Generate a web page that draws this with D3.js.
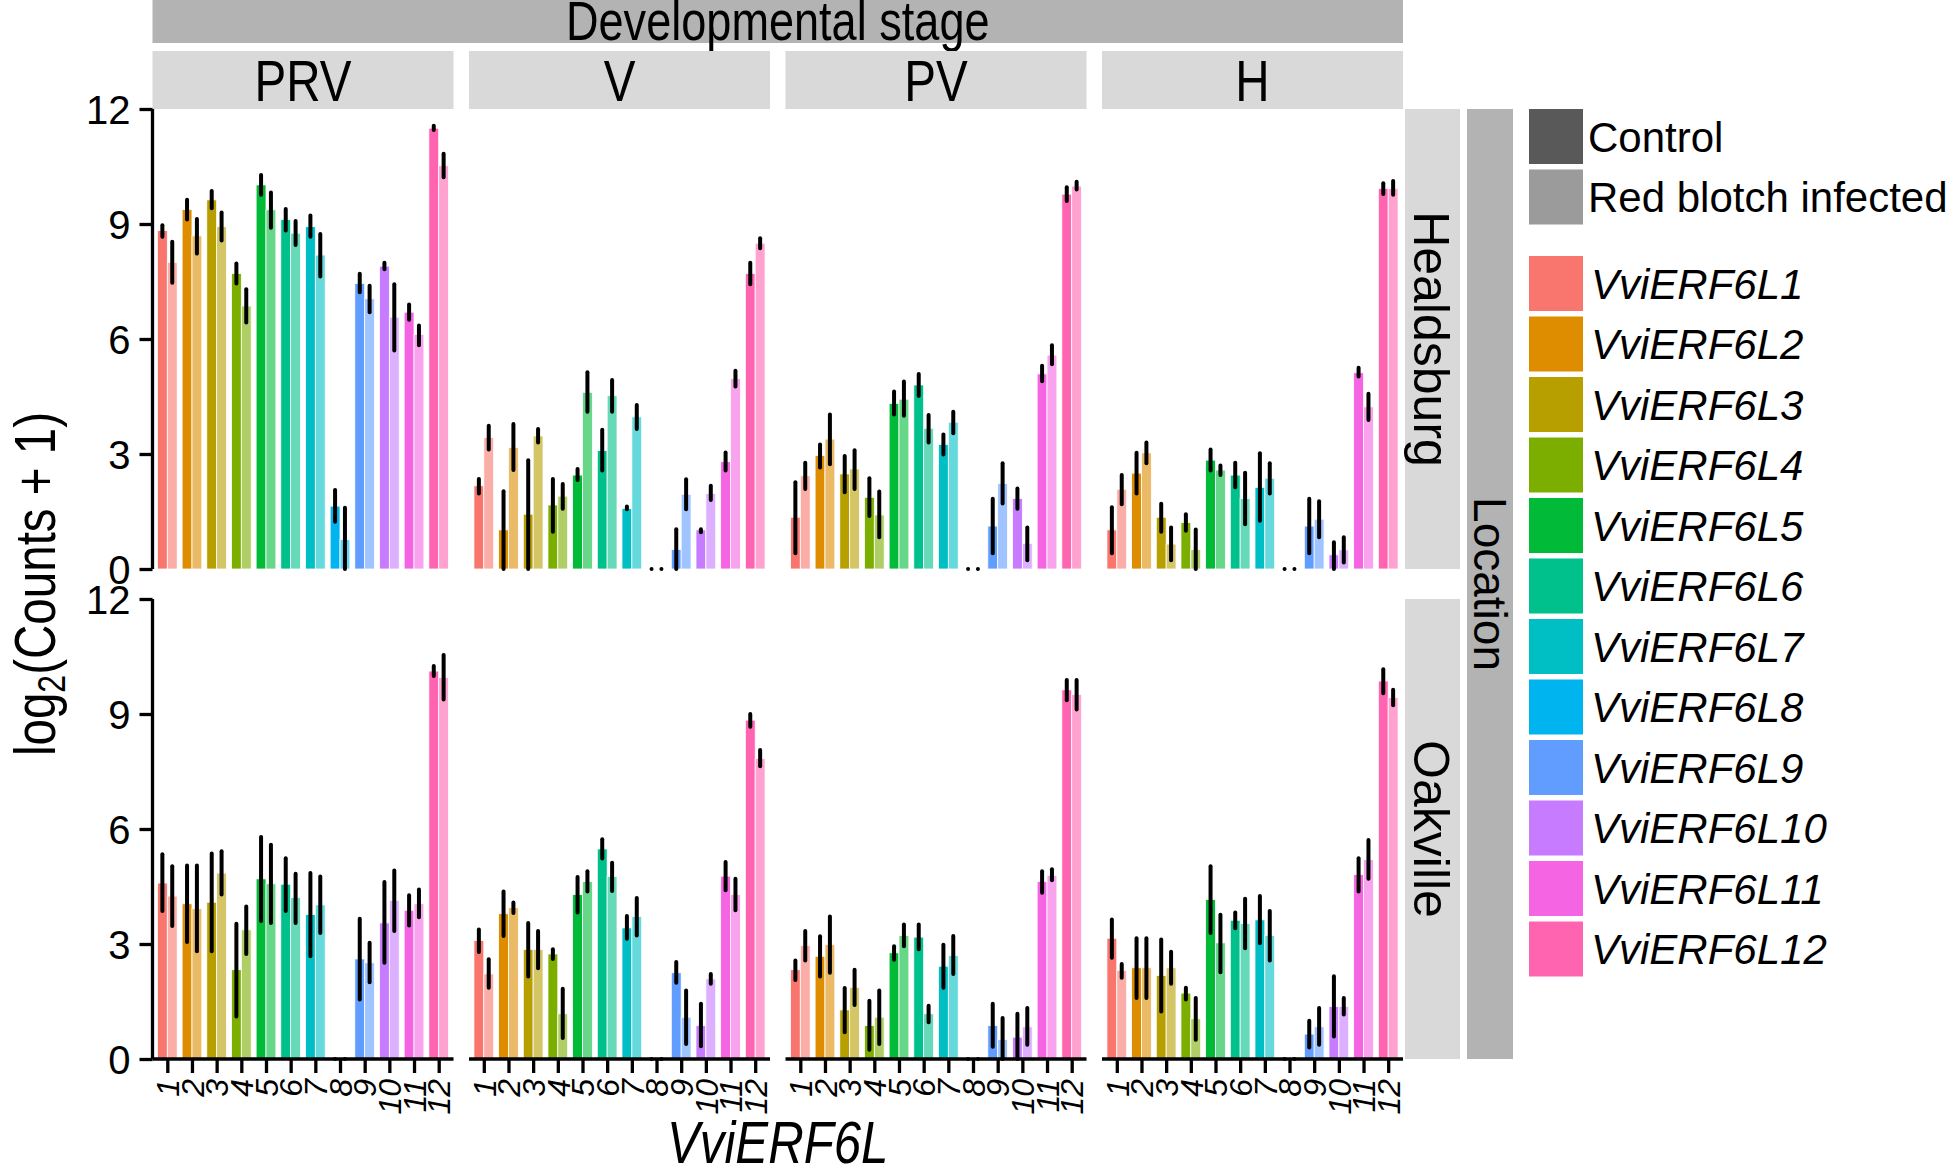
<!DOCTYPE html>
<html>
<head>
<meta charset="utf-8">
<script src="https://cdn.jsdelivr.net/npm/d3@7"></script>
<style>
  body { margin: 0; background: #fff; }
  text { font-family: "Liberation Sans", Arial, sans-serif; }
</style>
</head>
<body>
<script>
const genes = ['1', '2', '3', '4', '5', '6', '7', '8', '9', '10', '11', '12'];
const geneNames = genes.map(g => 'VviERF6L' + g);
const geneColors = ['#F8766D', '#DE8C00', '#B79F00', '#7CAE00', '#00BA38', '#00C08B',
  '#00BFC4', '#00B4F0', '#619CFF', '#C77CFF', '#F564E3', '#FF64B0'];
const stages = ['PRV', 'V', 'PV', 'H'];
const locations = ['Healdsburg', 'Oakville'];
const treatments = ['Control', 'Red blotch infected'];
const yTicks = [0, 3, 6, 9, 12];

// [mean, low, high] per gene, log2(counts + 1)
const heal_PRV_ctrl = [[8.83, 8.67, 8.97], [9.38, 9.12, 9.63], [9.63, 9.41, 9.86], [7.71, 7.45, 7.97], [10.02, 9.76, 10.28], [9.12, 8.83, 9.39], [8.93, 8.67, 9.22], [1.64, 1.23, 2.06], [7.45, 7.22, 7.70], [7.90, 7.82, 7.99], [6.70, 6.50, 6.90], [11.50, 11.45, 11.56]];
const heal_PRV_inf = [[8.0, 7.47, 8.54], [8.69, 8.23, 9.13], [8.93, 8.57, 9.30], [6.86, 6.43, 7.30], [9.37, 8.90, 9.82], [8.76, 8.45, 9.08], [8.19, 7.63, 8.74], [0.77, 0, 1.6], [7.05, 6.70, 7.39], [6.57, 5.70, 7.43], [6.12, 5.84, 6.35], [10.52, 10.22, 10.83]];
const heal_V_ctrl = [[2.17, 1.97, 2.35], [1.02, 0, 2.03], [1.43, 0, 2.84], [1.67, 0.97, 2.35], [2.45, 2.32, 2.61], [3.09, 2.57, 3.63], [1.58, 1.56, 1.63], [0, 0, 0], [0.51, 0, 1.04], [1.02, 0.96, 1.04], [2.80, 2.57, 3.04], [7.71, 7.43, 7.99]];
const heal_V_inf = [[3.43, 3.12, 3.74], [3.17, 2.58, 3.78], [3.47, 3.30, 3.65], [1.90, 1.57, 2.22], [4.61, 4.10, 5.13], [4.52, 4.10, 4.93], [3.97, 3.65, 4.28], [0, 0, 0], [1.95, 1.56, 2.34], [1.97, 1.80, 2.17], [4.97, 4.76, 5.17], [8.50, 8.37, 8.63]];
const heal_PV_ctrl = [[1.35, 0.41, 2.26], [2.96, 2.65, 3.25], [2.48, 2.0, 2.95], [1.87, 1.38, 2.37], [4.32, 4.03, 4.63], [4.80, 4.51, 5.09], [3.25, 2.99, 3.51], [0, 0, 0], [1.12, 0.41, 1.83], [1.84, 1.57, 2.10], [5.09, 4.90, 5.30], [9.78, 9.60, 9.96]];
const heal_PV_inf = [[2.43, 2.09, 2.77], [3.39, 2.73, 4.03], [2.61, 2.09, 3.10], [1.41, 0.83, 2.02], [4.43, 4.0, 4.89], [3.67, 3.30, 4.02], [3.83, 3.54, 4.10], [0, 0, 0], [2.23, 1.71, 2.76], [0.67, 0.23, 1.08], [5.58, 5.34, 5.84], [9.99, 9.90, 10.10]];
const heal_H_ctrl = [[1.02, 0.41, 1.61], [2.50, 1.97, 3.03], [1.35, 0.97, 1.70], [1.21, 1.0, 1.43], [2.84, 2.57, 3.12], [2.45, 2.13, 2.77], [2.13, 1.26, 3.02], [0, 0, 0], [1.12, 0.41, 1.83], [0.37, 0, 0.70], [5.12, 5.02, 5.25], [9.93, 9.78, 10.06]];
const heal_H_inf = [[2.08, 1.69, 2.45], [3.03, 2.76, 3.30], [0.65, 0.23, 1.08], [0.51, 0, 1.03], [2.58, 2.45, 2.70], [1.84, 1.17, 2.51], [2.37, 1.97, 2.76], [0, 0, 0], [1.30, 0.83, 1.77], [0.50, 0.17, 0.83], [4.23, 3.89, 4.57], [9.93, 9.76, 10.12]];
const oak_PRV_ctrl = [[4.59, 3.86, 5.34], [4.05, 3.05, 5.05], [4.09, 2.81, 5.36], [2.33, 1.11, 3.53], [4.70, 3.60, 5.79], [4.56, 3.86, 5.24], [3.77, 2.68, 4.85], [0, 0, 0], [2.61, 1.55, 3.66], [3.55, 2.51, 4.62], [3.88, 3.48, 4.27], [10.12, 9.99, 10.25]];
const oak_PRV_inf = [[4.25, 3.47, 5.03], [3.92, 2.81, 5.05], [4.85, 4.29, 5.42], [3.37, 2.74, 3.98], [4.57, 3.55, 5.59], [4.21, 3.55, 4.83], [4.02, 3.29, 4.76], [0, 0, 0], [2.51, 2.0, 3.03], [4.14, 3.34, 4.92], [4.05, 3.70, 4.42], [9.95, 9.38, 10.54]];
const oak_V_ctrl = [[3.09, 2.79, 3.38], [3.79, 3.21, 4.37], [2.86, 2.15, 3.55], [2.74, 2.61, 2.86], [4.29, 3.82, 4.75], [5.48, 5.23, 5.73], [3.42, 3.14, 3.73], [0, 0, 0], [2.25, 1.99, 2.53], [0.87, 0.33, 1.44], [4.77, 4.40, 5.14], [8.84, 8.67, 9.0]];
const oak_V_inf = [[2.22, 1.86, 2.60], [3.95, 3.81, 4.08], [2.86, 2.37, 3.34], [1.18, 0.55, 1.83], [4.63, 4.37, 4.90], [4.76, 4.38, 5.12], [3.72, 3.22, 4.20], [0, 0, 0], [1.09, 0.39, 1.79], [2.09, 1.96, 2.22], [4.29, 3.88, 4.70], [7.84, 7.64, 8.06]];
const oak_PV_ctrl = [[2.33, 2.06, 2.57], [2.68, 2.15, 3.20], [1.28, 0.70, 1.85], [0.87, 0.24, 1.52], [2.77, 2.59, 2.94], [3.18, 2.86, 3.51], [2.42, 1.86, 2.98], [0, 0, 0], [0.87, 0.32, 1.44], [0.57, 0, 1.18], [4.63, 4.34, 4.90], [9.63, 9.36, 9.89]];
const oak_PV_inf = [[2.96, 2.57, 3.34], [2.99, 2.25, 3.72], [1.87, 1.41, 2.33], [1.09, 0.39, 1.79], [3.22, 2.94, 3.51], [1.18, 0.96, 1.39], [2.70, 2.22, 3.21], [0, 0, 0], [0.51, 0, 1.07], [0.84, 0.37, 1.33], [4.79, 4.66, 4.95], [9.51, 9.12, 9.89]];
const oak_H_ctrl = [[3.15, 2.64, 3.64], [2.38, 1.59, 3.15], [2.18, 1.24, 3.12], [1.72, 1.55, 1.86], [4.16, 3.29, 5.03], [3.62, 3.41, 3.82], [3.63, 3.02, 4.25], [0, 0, 0], [0.65, 0.30, 1.00], [1.37, 0.59, 2.16], [4.81, 4.37, 5.24], [9.86, 9.54, 10.17]];
const oak_H_inf = [[2.31, 2.12, 2.48], [2.38, 1.59, 3.15], [2.38, 1.96, 2.80], [1.05, 0.50, 1.59], [3.03, 2.26, 3.76], [3.53, 2.89, 4.18], [3.22, 2.57, 3.86], [0, 0, 0], [0.84, 0.37, 1.33], [1.37, 1.16, 1.59], [5.20, 4.70, 5.71], [9.43, 9.23, 9.63]];

const panels = [
  [[heal_PRV_ctrl, heal_PRV_inf], [heal_V_ctrl, heal_V_inf], [heal_PV_ctrl, heal_PV_inf], [heal_H_ctrl, heal_H_inf]],
  [[oak_PRV_ctrl, oak_PRV_inf], [oak_V_ctrl, oak_V_inf], [oak_PV_ctrl, oak_PV_inf], [oak_H_ctrl, oak_H_inf]]
];

const W = 1946, H = 1168;
const panelLeft = 152.5, panelW = 301, panelStep = 316.5;
const rowTops = [109, 599], rowH = 460;
const treatAlpha = [1, 0.6];
const narrow = 0.82;

const svg = d3.select('body').append('svg')
  .attr('width', W)
  .attr('height', H);

const x = d3.scalePoint().domain(genes).range([0, panelW]).padding(0.6);
const barW = x.step() * 0.4;
const y = d3.scaleLinear().domain([0, 12]).range([rowH, 0]);

// outer strip: developmental stage
svg.append('rect')
  .attr('x', panelLeft).attr('y', 0)
  .attr('width', panelStep * 3 + panelW).attr('height', 43)
  .style('fill', '#b3b3b3');
svg.append('text')
  .attr('transform', `translate(${panelLeft + (panelStep * 3 + panelW) / 2}, 40) scale(${narrow},1)`)
  .attr('text-anchor', 'middle')
  .style('font-size', '55px')
  .text('Developmental stage');

stages.forEach((s, j) => {
  const px = panelLeft + j * panelStep;
  svg.append('rect')
    .attr('x', px).attr('y', 51)
    .attr('width', panelW).attr('height', 58)
    .style('fill', '#d9d9d9');
  svg.append('text')
    .attr('transform', `translate(${px + panelW / 2}, 101) scale(${narrow},1)`)
    .attr('text-anchor', 'middle')
    .style('font-size', '58px')
    .text(s);
});

// right strips
locations.forEach((loc, i) => {
  svg.append('rect')
    .attr('x', 1405).attr('y', rowTops[i])
    .attr('width', 55).attr('height', rowH)
    .style('fill', '#d9d9d9');
  svg.append('text')
    .attr('transform', `translate(1414, ${rowTops[i] + rowH / 2}) rotate(90)`)
    .attr('text-anchor', 'middle')
    .style('font-size', '50px')
    .text(loc);
});
svg.append('rect')
  .attr('x', 1467).attr('y', rowTops[0])
  .attr('width', 46).attr('height', rowTops[1] + rowH - rowTops[0])
  .style('fill', '#b3b3b3');
svg.append('text')
  .attr('transform', `translate(1474, ${(rowTops[0] + rowTops[1] + rowH) / 2}) rotate(90)`)
  .attr('text-anchor', 'middle')
  .style('font-size', '46px')
  .text('Location');

// panels
panels.forEach((row, i) => {
  row.forEach((pair, j) => {
    const g = svg.append('g')
      .attr('transform', `translate(${panelLeft + j * panelStep}, ${rowTops[i]})`);

    pair.forEach((vals, t) => {
      const off = t === 0 ? -barW : 0;
      g.selectAll('rect.t' + t)
        .data(vals)
        .enter()
        .append('rect')
        .attr('x', (d, k) => x(genes[k]) + off)
        .attr('y', d => y(d[0]))
        .attr('width', barW)
        .attr('height', d => y(0) - y(d[0]))
        .style('fill', (d, k) => geneColors[k])
        .style('fill-opacity', treatAlpha[t])
        .style('stroke', '#fff')
        .style('stroke-width', '0.8px');

      g.selectAll('line.e' + t)
        .data(vals)
        .enter()
        .append('line')
        .attr('x1', (d, k) => x(genes[k]) + off + barW / 2)
        .attr('x2', (d, k) => x(genes[k]) + off + barW / 2)
        .attr('y1', d => y(d[1]))
        .attr('y2', d => y(d[2]))
        .style('stroke', '#000')
        .style('stroke-width', '4px')
        .style('stroke-linecap', 'round');
    });

    if (j === 0) {
      const ya = g.append('g')
        .call(d3.axisLeft(y).tickValues(yTicks).tickSize(13).tickPadding(9));
      ya.select('.domain').attr('d', `M0,0V${rowH}`).style('stroke-width', '3.3px');
      ya.selectAll('.tick line').style('stroke-width', '3.3px');
      ya.selectAll('.tick text')
        .style('font-family', '"Liberation Sans", Arial, sans-serif')
        .style('font-size', '40px')
        .attr('dy', '0.36em');
    }

    if (i === 1) {
      const xa = g.append('g')
        .attr('transform', `translate(0, ${rowH})`)
        .call(d3.axisBottom(x).tickSize(14).tickPadding(6));
      xa.select('.domain').attr('d', `M0,0H${panelW}`).style('stroke-width', '3.5px');
      xa.selectAll('.tick line').style('stroke-width', '3.3px');
      xa.selectAll('.tick text')
        .style('font-family', '"Liberation Sans", Arial, sans-serif')
        .style('font-size', '32px')
        .style('font-style', 'italic')
        .attr('text-anchor', 'end')
        .attr('dy', '0.35em')
        .attr('transform', 'translate(0, 20) rotate(-90)')
        .attr('x', 0).attr('y', 0);
    }
  });
});

// axis titles
const yt = svg.append('text')
  .attr('transform', `translate(55, ${(rowTops[0] + rowTops[1] + rowH) / 2}) rotate(-90) scale(${narrow},1)`)
  .attr('text-anchor', 'middle')
  .style('font-size', '58px');
yt.append('tspan').text('log');
yt.append('tspan').attr('baseline-shift', '-25%').style('font-size', '39px').text('2');
yt.append('tspan').text('(Counts + 1)');

svg.append('text')
  .attr('transform', `translate(${panelLeft + (panelStep * 3 + panelW) / 2}, 1163) scale(${narrow},1)`)
  .attr('text-anchor', 'middle')
  .style('font-size', '60px')
  .style('font-style', 'italic')
  .text('VviERF6L');

// legends
const legX = 1529, keyW = 54, keyH = 55, legPitch = 60.5;
treatments.forEach((tr, t) => {
  const ky = 109 + t * legPitch;
  svg.append('rect')
    .attr('x', legX).attr('y', ky)
    .attr('width', keyW).attr('height', keyH)
    .style('fill', '#595959')
    .style('fill-opacity', treatAlpha[t]);
  svg.append('text')
    .attr('x', legX + keyW + 5).attr('y', ky + keyH / 2)
    .attr('dy', '0.36em')
    .style('font-size', '42px')
    .text(tr);
});
geneNames.forEach((gn, k) => {
  const ky = 256 + k * legPitch;
  svg.append('rect')
    .attr('x', legX).attr('y', ky)
    .attr('width', keyW).attr('height', keyH)
    .style('fill', geneColors[k]);
  svg.append('text')
    .attr('x', legX + keyW + 8).attr('y', ky + keyH / 2)
    .attr('dy', '0.36em')
    .style('font-size', '42px')
    .style('font-style', 'italic')
    .text(gn);
});
</script>
</body>
</html>
